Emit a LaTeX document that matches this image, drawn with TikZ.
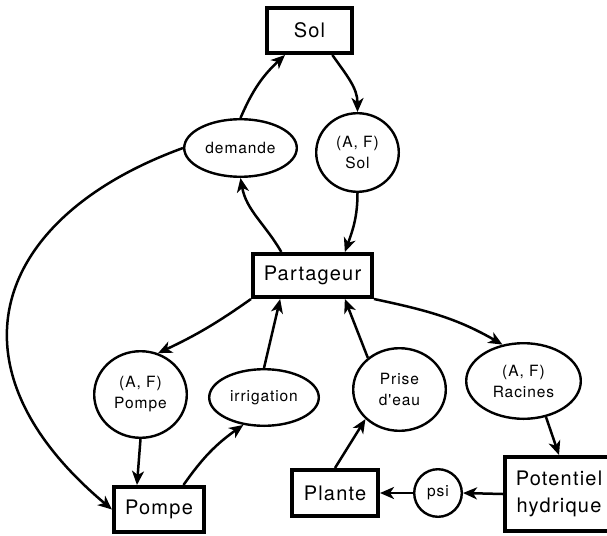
\documentclass[tikz,border=0pt]{standalone}
\usepackage{fontspec}
\newfontfamily\diagfont{TeX Gyre Heros}[LetterSpace=6]
\usetikzlibrary{shapes.geometric,arrows.meta}

\begin{document}
\begin{tikzpicture}[x=1pt,y=1pt,
  box/.style  ={draw,line width=4pt,inner sep=0pt,align=center,font=\diagfont\fontsize{20}{27.7}\selectfont},
  bulle/.style={ellipse,draw,line width=2.4pt,inner sep=0pt,align=center,font=\diagfont\fontsize{15.5}{21}\selectfont},
  flux/.style ={-{Stealth[length=14pt,width=12pt,inset=4pt]},line width=2.5pt}]
 \useasboundingbox (0,0) rectangle (607,-535);
 \clip (0,0) rectangle (607,-535);

 \node[box,  name=Sol,       minimum width=85pt,   minimum height=45pt]   at (309.5,-30.5)  {Sol};
 \node[bulle,name=demande,   minimum width=112.6pt,minimum height=57.6pt] at (240.5,-148)   {demande};
 \node[bulle,name=AFSol,     minimum width=82.6pt, minimum height=78.6pt] at (357.5,-152.5) {(A, F)\\Sol};
 \node[box,  name=Partageur, minimum width=119pt,  minimum height=43pt]   at (312.5,-275.5) {Partageur};
 \node[bulle,name=AFPompe,   minimum width=92.6pt, minimum height=86.6pt] at (140.5,-394.5) {(A, F)\\Pompe};
 \node[bulle,name=irrigation,minimum width=109.6pt,minimum height=56.6pt] at (264,-397.5)   {irrigation};
 \node[bulle,name=Prise,     minimum width=92.6pt, minimum height=82.6pt] at (399.5,-389.5) {Prise\\d'eau};
 \node[bulle,name=Racines,   minimum width=114.6pt,minimum height=75.6pt] at (523.5,-381)   {(A, F)\\Racines};
 \node[box,  name=Pompe,     minimum width=90pt,   minimum height=45pt]   at (159,-509.5)   {Pompe};
 \node[box,  name=Plante,    minimum width=86pt,   minimum height=46pt]   at (335,-493)     {Plante};
 \node[bulle,name=psi,       minimum width=47.6pt, minimum height=47.6pt] at (438,-493)     {psi};
 \node[box,  name=Potentiel, minimum width=108pt,  minimum height=74pt]   at (559,-494)     {Potentiel\\hydrique};

 \draw[flux] (demande.north)       to[bend left=12]    (Sol.225);
 \draw[flux] (Sol.313)             to[out=-55,in=90]   (AFSol.north);
 \draw[flux] (AFSol.south)         to[out=-90,in=70]   (Partageur.36);
 \draw[flux] (Partageur.143)       to[out=120,in=-80]  (demande.south);
 \draw[flux] (Partageur.south west) to[bend left=5]    (AFPompe.67);
 \draw[flux] (irrigation.north)    --                  (Partageur.216);
 \draw[flux] (Prise.135)           --                  (Partageur.324);
 \draw[flux] (Partageur.south east) to[out=-12,in=150] (Racines.120);
 \draw[flux] (Racines.302)         --                  (Potentiel.north);
 \draw[flux] (Potentiel.west)      --                  (psi.east);
 \draw[flux] (psi.west)            --                  (Plante.east);
 \draw[flux] (Plante.north)        --                  (Prise.221);
 \draw[flux] (AFPompe.south)       --                  (Pompe.132);
 \draw[flux] (Pompe.45)            to[out=55,in=215]   (irrigation.233);
 \draw[flux] (demande.west) to[out=200,in=140,out distance=200pt,in distance=225pt] (Pompe.west);
\end{tikzpicture}
\end{document}
